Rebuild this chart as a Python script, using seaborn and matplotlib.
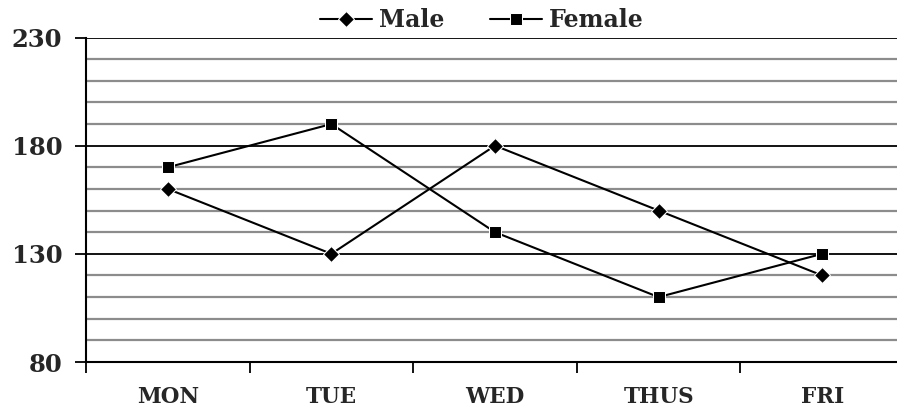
import matplotlib
matplotlib.use("Agg")
import matplotlib.pyplot as plt
import seaborn as sns
import pandas as pd
import numpy as np
from matplotlib.ticker import FixedLocator

days = ["MON", "TUE", "WED", "THUS", "FRI"]
male = [160, 130, 180, 150, 120]
female = [170, 190, 140, 110, 130]
y_ticks = [80, 130, 180, 230]

df = pd.DataFrame({
    "day": days * 2,
    "value": male + female,
    "series": ["Male"] * len(days) + ["Female"] * len(days),
})

sns.set_theme(style="white")
plt.rcParams["font.family"] = ["DejaVu Serif"]
plt.rcParams["font.weight"] = "bold"

fig = plt.figure(figsize=(8.97, 4.12), dpi=100)
ax = fig.add_axes([86 / 897, 1 - 362 / 412, 818 / 897, (362 - 37.5) / 412])

# gridlines
for v in range(90, 230, 10):
    if v in y_ticks:
        continue
    ax.axhline(v, color="#8c8c8c", lw=1.6, zorder=1)
for v in y_ticks[1:]:
    ax.axhline(v, color="black", lw=1.3, zorder=1)

sns.lineplot(data=df, x="day", y="value", hue="series", style="series",
             palette={"Male": "black", "Female": "black"},
             markers={"Male": "D", "Female": "s"}, dashes=False,
             markersize=8.5, lw=1.5, ax=ax, zorder=3, sort=False)

ax.set_xlim(-0.5, 4.5)
ax.set_ylim(80, 230)
ax.set_yticks(y_ticks)
ax.set_yticklabels([str(t) for t in y_ticks], fontsize=17.5, fontweight="bold")
ax.set_xticks(range(len(days)))
ax.set_xticklabels(days, fontsize=15.5, fontweight="bold")
ax.xaxis.set_minor_locator(FixedLocator(np.arange(-0.5, 4.6, 1.0)))
ax.tick_params(axis="x", which="major", length=0, pad=17)
ax.tick_params(axis="x", which="minor", length=8, width=1.3, color="black", direction="out", bottom=True)
ax.tick_params(axis="y", which="major", length=8, width=1.3, color="black", direction="out", left=True, pad=9)
ax.set_xlabel("")
ax.set_ylabel("")

for s in ["top", "right"]:
    ax.spines[s].set_visible(False)
for s in ["left", "bottom"]:
    ax.spines[s].set_color("black")
    ax.spines[s].set_linewidth(1.5)

leg = ax.legend(loc="center", bbox_to_anchor=(0.484, 1 + 17.5 / 324.5),
                ncol=2, frameon=False, prop={"size": 17, "weight": "bold"},
                handlelength=2.2, handletextpad=0.3, columnspacing=1.9,
                borderaxespad=0, borderpad=0.0)

fig.savefig("out.png", dpi=100)
